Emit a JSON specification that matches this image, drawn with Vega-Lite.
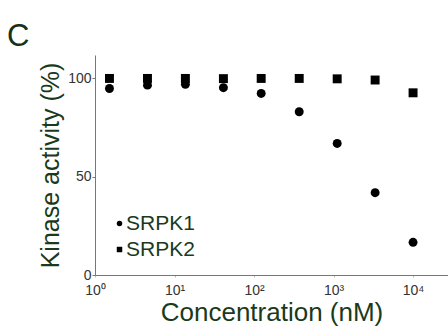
{
  "$schema": "https://vega.github.io/schema/vega-lite/v6.json",
  "autosize": {"type": "none"},
  "padding": {"left": 95, "top": 55, "right": 0, "bottom": 51},
  "width": 353,
  "height": 220,
  "background": "white",
  "title": {"text": "C", "anchor": "start", "frame": "group", "dx": -88, "offset": 2, "fontSize": 31, "fontWeight": "normal", "font": "Liberation Sans", "color": "#143214"},
  "config": {"view": {"stroke": null}, "font": "Liberation Sans"},
  "data": {"values": [
    {"conc": 1.52, "activity": 94.7, "kinase": "SRPK1"},
    {"conc": 4.57, "activity": 96.4, "kinase": "SRPK1"},
    {"conc": 13.7, "activity": 96.8, "kinase": "SRPK1"},
    {"conc": 41.2, "activity": 95.1, "kinase": "SRPK1"},
    {"conc": 123, "activity": 92.2, "kinase": "SRPK1"},
    {"conc": 370, "activity": 82.9, "kinase": "SRPK1"},
    {"conc": 1111, "activity": 66.8, "kinase": "SRPK1"},
    {"conc": 3333, "activity": 41.8, "kinase": "SRPK1"},
    {"conc": 10000, "activity": 16.6, "kinase": "SRPK1"},
    {"conc": 1.52, "activity": 99.8, "kinase": "SRPK2"},
    {"conc": 4.57, "activity": 99.8, "kinase": "SRPK2"},
    {"conc": 13.7, "activity": 99.8, "kinase": "SRPK2"},
    {"conc": 41.2, "activity": 99.7, "kinase": "SRPK2"},
    {"conc": 123, "activity": 99.8, "kinase": "SRPK2"},
    {"conc": 370, "activity": 99.8, "kinase": "SRPK2"},
    {"conc": 1111, "activity": 99.6, "kinase": "SRPK2"},
    {"conc": 3333, "activity": 99.0, "kinase": "SRPK2"},
    {"conc": 10000, "activity": 92.5, "kinase": "SRPK2"}
  ]},
  "mark": {"type": "point", "filled": true, "opacity": 1, "color": "black", "size": 80},
  "encoding": {
    "x": {
      "field": "conc", "type": "quantitative",
      "scale": {"type": "log", "domain": [1, 27500], "nice": false},
      "axis": {
        "title": "Concentration (nM)", "titleFontSize": 26, "titleFontWeight": "normal", "titleColor": "#1a3a1a", "titlePadding": 2,
        "values": [1, 10, 100, 1000, 10000],
        "labelExpr": "'10' + ['⁰','¹','²','³','⁴'][round(log(datum.value)/LN10)]",
        "labelFontSize": 14, "labelColor": "#333333", "labelPadding": 6, "labelFlush": false,
        "tickSize": 2, "tickColor": "#bbbbbb", "domainColor": "#777777", "grid": false
      }
    },
    "y": {
      "field": "activity", "type": "quantitative",
      "scale": {"domain": [0, 111.7], "nice": false},
      "axis": {
        "title": "Kinase activity (%)", "titleFontSize": 25, "titleFontWeight": "normal", "titleColor": "#1a3a1a", "titlePadding": 4,
        "values": [0, 50, 100],
        "labelFontSize": 14, "labelColor": "#333333", "labelPadding": 1, "labelFlush": false,
        "tickSize": 3, "tickColor": "#777777", "domainColor": "#777777", "grid": false
      }
    },
    "shape": {
      "field": "kinase", "type": "nominal",
      "scale": {"domain": ["SRPK1", "SRPK2"], "range": ["circle", "square"]},
      "legend": {
        "title": null, "orient": "none", "legendX": 14, "legendY": 158,
        "labelFontSize": 21, "labelColor": "#1a3a1a", "symbolSize": 30, "symbolFillColor": "black", "symbolStrokeColor": "black",
        "rowPadding": 4, "labelOffset": -4, "symbolOffset": 0
      }
    }
  }
}
